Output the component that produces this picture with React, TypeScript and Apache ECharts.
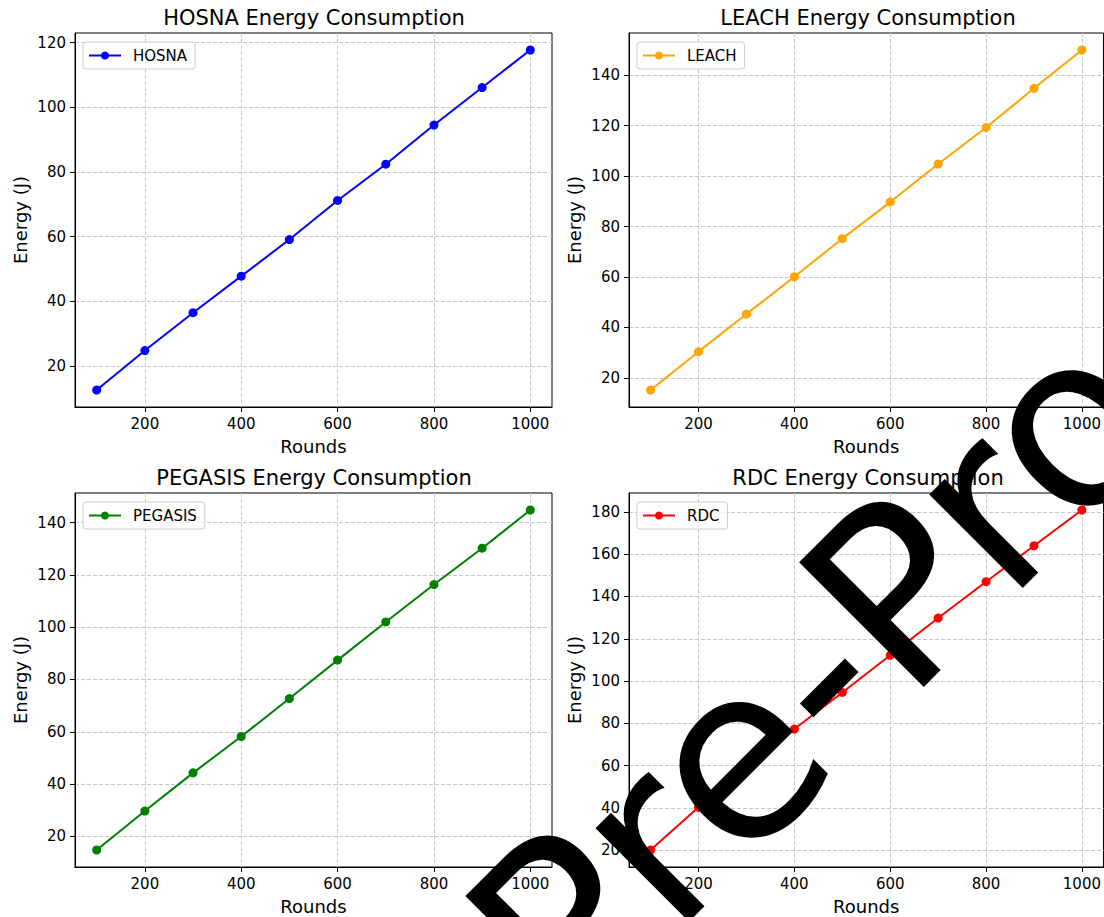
import React, { useEffect, useRef } from "react";
import * as echarts from "echarts";

const rounds = [100, 200, 300, 400, 500, 600, 700, 800, 900, 1000];
const hosna = [12.6, 24.8, 36.5, 47.8, 59.1, 71.2, 82.4, 94.5, 106.1, 117.7];
const leach = [15.2, 30.4, 45.3, 60.1, 75.2, 89.7, 104.8, 119.3, 134.8, 150.0];
const pegasis = [14.8, 29.7, 44.3, 58.2, 72.7, 87.4, 102.0, 116.3, 130.2, 144.8];
const rdc = [20.1, 40.3, 58.8, 77.3, 94.6, 112.2, 129.8, 147.0, 164.0, 180.9];

const xTicks = [200, 400, 600, 800, 1000];
const hosnaTicks = [20, 40, 60, 80, 100, 120];
const leachTicks = [20, 40, 60, 80, 100, 120, 140];
const pegasisTicks = [20, 40, 60, 80, 100, 120, 140];
const rdcTicks = [20, 40, 60, 80, 100, 120, 140, 160, 180];

const FONT = "DejaVu Sans";

const panels = [
  { name: "HOSNA", values: hosna, color: "#0000ff", yTicks: hosnaTicks, left: 75, top: 33, width: 477 },
  { name: "LEACH", values: leach, color: "#ffa500", yTicks: leachTicks, left: 629, top: 33, width: 476 },
  { name: "PEGASIS", values: pegasis, color: "#008000", yTicks: pegasisTicks, left: 75, top: 493, width: 477 },
  { name: "RDC", values: rdc, color: "#ff0000", yTicks: rdcTicks, left: 629, top: 493, width: 476 },
];
const H = 374;

function pad(arr: number[]) {
  const mn = Math.min(...arr);
  const mx = Math.max(...arr);
  const s = (mx - mn) * 0.05;
  return [mn - s, mx + s];
}

const fmt = (v: number) => String(Math.round(v));

export default function App() {
  const ref = useRef<HTMLDivElement>(null);
  useEffect(() => {
    if (!ref.current) return;
    const chart = echarts.init(ref.current, undefined, { renderer: "svg" });
    const [xMin, xMax] = pad(rounds);
    const grid: any[] = [];
    const xAxis: any[] = [];
    const yAxis: any[] = [];
    const series: any[] = [];
    const legend: any[] = [];
    const graphic: any[] = [];
    panels.forEach((p, i) => {
      grid.push({
        left: p.left,
        top: p.top,
        width: p.width,
        height: H,
        show: true,
        borderColor: "#000",
        borderWidth: 1,
        backgroundColor: "transparent",
        containLabel: false,
      });
      const [yMin, yMax] = pad(p.values);
      xAxis.push({
        type: "value",
        gridIndex: i,
        min: xMin,
        max: xMax,
        name: "Rounds",
        nameLocation: "middle",
        nameGap: 30,
        nameTextStyle: { fontFamily: FONT, fontSize: 18, color: "#000" },
        axisLine: { show: true, lineStyle: { color: "#000", width: 1 } },
        axisTick: { show: true, length: 5, lineStyle: { color: "#000" }, customValues: xTicks },
        axisLabel: { fontFamily: FONT, fontSize: 15, color: "#000", margin: 9, customValues: xTicks, formatter: fmt },
        splitLine: { show: true, lineStyle: { color: "#c8c8c8", width: 1, type: [4, 2] } },
      });
      yAxis.push({
        type: "value",
        gridIndex: i,
        min: yMin,
        max: yMax,
        name: "Energy (J)",
        nameLocation: "middle",
        nameGap: 46,
        nameRotate: 90,
        nameTextStyle: { fontFamily: FONT, fontSize: 18, color: "#000" },
        axisLine: { show: true, lineStyle: { color: "#000", width: 1 } },
        axisTick: { show: true, length: 5, lineStyle: { color: "#000" }, customValues: p.yTicks },
        axisLabel: { fontFamily: FONT, fontSize: 15, color: "#000", margin: 9, customValues: p.yTicks, formatter: fmt },
        splitLine: { show: true, lineStyle: { color: "#c8c8c8", width: 1, type: [4, 2] } },
      });
      series.push({
        type: "line",
        name: p.name,
        xAxisIndex: i,
        yAxisIndex: i,
        data: rounds.map((r, k) => [r, p.values[k]]),
        symbol: "circle",
        symbolSize: 9,
        showSymbol: true,
        color: p.color,
        lineStyle: { color: p.color, width: 2 },
        itemStyle: { color: p.color },
        z: 3,
      });
      legend.push({
        data: [p.name],
        left: p.left + 8,
        top: p.top + 9,
        orient: "vertical",
        padding: [6, 8, 6, 5],
        itemWidth: 32,
        itemHeight: 10,
        borderColor: "#cccccc",
        borderWidth: 1,
        borderRadius: 3,
        backgroundColor: "rgba(255,255,255,0.8)",
        textStyle: { fontFamily: FONT, fontSize: 15, color: "#000", padding: [0, 0, 0, 7] },
      });
      graphic.push({
        type: "text",
        x: p.left + 477 / 2 + 0.5,
        y: p.top - 15,
        style: {
          text: `${p.name} Energy Consumption`,
          font: `21px '${FONT}'`,
          fill: "#000",
          textAlign: "center",
          textVerticalAlign: "middle",
        },
      });
    });
    graphic.push({
      type: "text",
      x: 899,
      y: 593,
      rotation: Math.PI / 4,
      z: 100,
      style: {
        text: "Pre-Proof",
        font: `242px '${FONT}'`,
        fill: "#000",
        textAlign: "center",
        textVerticalAlign: "middle",
      },
    });
    chart.setOption({
      animation: false,
      backgroundColor: "#fff",
      grid,
      xAxis,
      yAxis,
      series,
      legend,
      graphic,
    });
    return () => chart.dispose();
  }, []);
  return (
    <div
      ref={ref}
      style={{ position: "absolute", left: 0, top: 0, width: 1104, height: 917 }}
    />
  );
}
